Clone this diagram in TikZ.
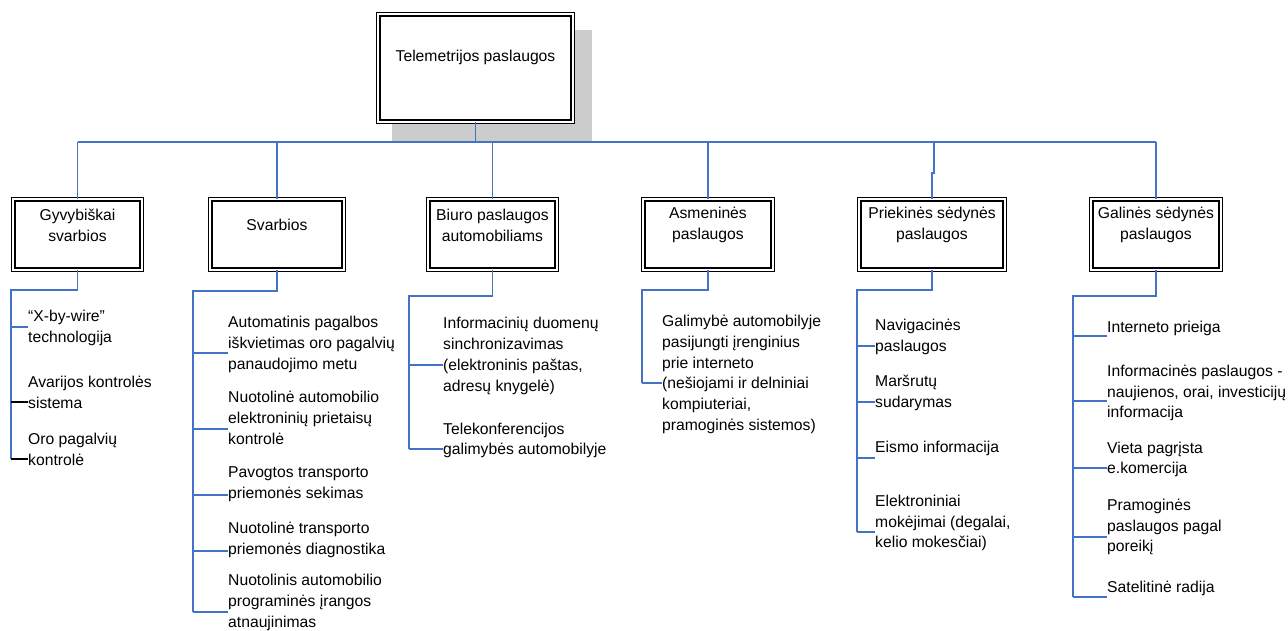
\documentclass[tikz,border=0pt]{standalone}
\usepackage{fontspec}
\setmainfont{Liberation Sans}
\definecolor{lnblue}{RGB}{68,114,196}
\definecolor{shadowgray}{RGB}{204,204,204}
\newcommand{\fs}{\fontsize{15.7}{20.8}\selectfont}
\tikzset{
  boxnode/.style={draw=black, double=white, double distance=2pt, line width=1.3pt, fill=white, inner sep=0pt},
  conn/.style={draw=lnblue, line width=1.2pt},
  connk/.style={draw=black, line width=1.2pt},
  boxtext/.style={align=center, inner sep=0pt, font=\fs},
  item/.style={align=left, anchor=west, inner sep=0pt, font=\fs},
}
\begin{document}
\begin{tikzpicture}[x=1pt,y=-1pt]
\useasboundingbox (0,0) rectangle (1288,630);
% shadow and top box
\fill[shadowgray] (392,30) rectangle (592,142);
\node[boxnode, minimum width=194.4pt, minimum height=107.4pt] (top) at (475.5,68) {};
\node[boxtext] (toptxt) at (475.5,57) {Telemetrijos paslaugos};
% level 2 boxes
\node[boxnode, minimum width=128.4pt, minimum height=70.4pt] (gyv) at (77.5,234.5) {};
\node[boxnode, minimum width=133.4pt, minimum height=70.4pt] (svb) at (277,234.5) {};
\node[boxnode, minimum width=128.4pt, minimum height=70.4pt] (biu) at (492.5,234.5) {};
\node[boxnode, minimum width=129.4pt, minimum height=70.4pt] (asm) at (708,234.5) {};
\node[boxnode, minimum width=145.4pt, minimum height=70.4pt] (prk) at (932,234.5) {};
\node[boxnode, minimum width=129.4pt, minimum height=70.4pt] (gal) at (1156,234.5) {};
\node[boxtext] (gyvt) at (77.5,225) {Gyvybiškai\\svarbios};
\node[boxtext] (svbt) at (277,225) {Svarbios};
\node[boxtext] (biut) at (492.5,225) {Biuro paslaugos\\automobiliams};
\node[boxtext] (asmt) at (708,225) {Asmeninės\\paslaugos};
\node[boxtext] (prkt) at (932,225) {Priekinės sėdynės\\paslaugos};
\node[boxtext] (galt) at (1156,225) {Galinės sėdynės\\paslaugos};
% bus
\coordinate (bus) at (0,142);
\draw[conn] (top.south) -- (top.south |- bus);
\draw[conn] (gyv.north |- bus) -- (gal.north |- bus);
\foreach \n in {gyv,svb,biu,asm,gal} \draw[conn] (\n.north) -- (\n.north |- bus);
\coordinate (pj) at (934,173);
\draw[conn] (prk.north) -- (prk.north |- pj) -- (pj) -- (pj |- bus);
% ---- group 1: Gyvybiskai
\coordinate (gyvS) at (11,290);
\coordinate (gyvE) at (11,459);
\draw[conn] (gyv.south) |- (gyvS) -- (gyvE);
\node[item] (g1) at (28,328) {“X-by-wire”\\technologija};
\node[item] (g2) at (28,392.5) {Avarijos kontrolės\\sistema};
\node[item] (g3) at (28,449.5) {Oro pagalvių\\kontrolė};
\draw[conn] (gyvS |- 0,327) -- (g1.west |- 0,327);
\draw[connk] (gyvS |- 0,402) -- (g2.west |- 0,402);
\draw[connk] (gyvS |- 0,459) -- (g3.west |- 0,459);
% ---- group 2: Svarbios
\coordinate (svbS) at (193,291);
\coordinate (svbE) at (193,612);
\draw[conn] (svb.south) |- (svbS) -- (svbE);
\node[item] (s1) at (228,344.5) {Automatinis pagalbos\\iškvietimas oro pagalvių\\panaudojimo metu};
\node[item] (s2) at (228,418) {Nuotolinė automobilio\\elektroninių prietaisų\\kontrolė};
\node[item] (s3) at (228,484.5) {Pavogtos transporto\\priemonės sekimas};
\node[item] (s4) at (228,540) {Nuotolinė transporto\\priemonės diagnostika};
\node[item] (s5) at (228,602.5) {Nuotolinis automobilio\\programinės įrangos\\atnaujinimas};
\draw[conn] (svbS |- 0,353) -- (s1.west |- 0,353);
\draw[conn] (svbS |- 0,429) -- (s2.west |- 0,429);
\draw[conn] (svbS |- 0,495) -- (s3.west |- 0,495);
\draw[conn] (svbS |- 0,551) -- (s4.west |- 0,551);
\draw[conn] (svbS |- 0,612) -- (s5.west |- 0,612);
% ---- group 3: Biuro
\coordinate (biuS) at (409,296);
\coordinate (biuE) at (409,449);
\draw[conn] (biu.south) |- (biuS) -- (biuE);
\node[item] (b1) at (443,356) {Informacinių duomenų\\sinchronizavimas\\(elektroninis paštas,\\adresų knygelė)};
\node[item] (b2) at (443,440.5) {Telekonferencijos\\galimybės automobilyje};
\draw[conn] (biuS |- 0,365) -- (b1.west |- 0,365);
\draw[conn] (biuS |- 0,449) -- (b2.west |- 0,449);
% ---- group 4: Asmenines
\coordinate (asmS) at (642,290);
\coordinate (asmE) at (642,383);
\draw[conn] (asm.south) |- (asmS) -- (asmE);
\node[item] (a1) at (662,374.5) {Galimybė automobilyje\\pasijungti įrenginius\\prie interneto\\(nešiojami ir delniniai\\kompiuteriai,\\pramoginės sistemos)};
\draw[conn] (asmS |- 0,383) -- (a1.west |- 0,383);
% ---- group 5: Priekines
\coordinate (prkS) at (857,290);
\coordinate (prkE) at (857,532);
\draw[conn] (prk.south) |- (prkS) -- (prkE);
\node[item] (p1) at (875,337) {Navigacinės\\paslaugos};
\node[item] (p2) at (875,393) {Maršrutų\\sudarymas};
\node[item] (p3) at (875,448) {Eismo informacija};
\node[item] (p4) at (875,523) {Elektroniniai\\mokėjimai (degalai,\\kelio mokesčiai)};
\draw[conn] (prkS |- 0,346) -- (p1.west |- 0,346);
\draw[conn] (prkS |- 0,402) -- (p2.west |- 0,402);
\draw[conn] (prkS |- 0,458) -- (p3.west |- 0,458);
\draw[conn] (prkS |- 0,532) -- (p4.west |- 0,532);
% ---- group 6: Galines
\coordinate (galS) at (1073,296);
\coordinate (galE) at (1073,597);
\draw[conn] (gal.south) |- (galS) -- (galE);
\node[item] (l1) at (1107,328) {Interneto prieiga};
\node[item] (l2) at (1107,393) {Informacinės paslaugos -\\naujienos, orai, investicijų\\informacija};
\node[item] (l3) at (1107,459.5) {Vieta pagrįsta\\e.komercija};
\node[item] (l4) at (1107,527) {Pramoginės\\paslaugos pagal\\poreikį};
\node[item] (l5) at (1107,588) {Satelitinė radija};
\draw[conn] (galS |- 0,336) -- (l1.west |- 0,336);
\draw[conn] (galS |- 0,401) -- (l2.west |- 0,401);
\draw[conn] (galS |- 0,468) -- (l3.west |- 0,468);
\draw[conn] (galS |- 0,537) -- (l4.west |- 0,537);
\draw[conn] (galS |- 0,597) -- (l5.west |- 0,597);
\end{tikzpicture}
\end{document}
